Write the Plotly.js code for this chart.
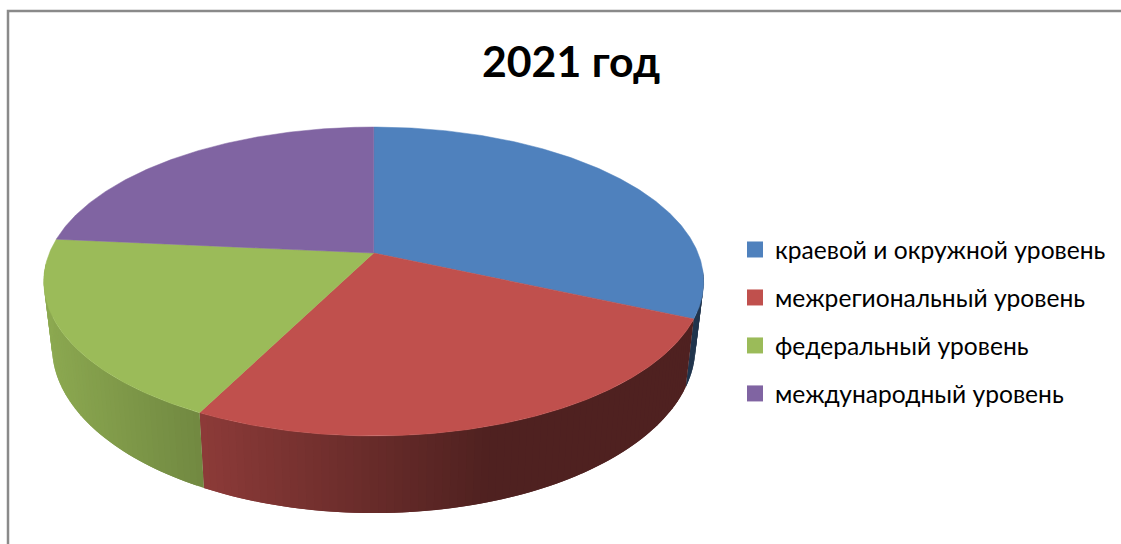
<!DOCTYPE html>
<html>
<head>
<meta charset="utf-8">
<script src="https://cdn.plot.ly/plotly-3.0.1.min.js"></script>
<style>html,body{margin:0;padding:0;background:#fff}#chart{width:1121px;height:544px}</style>
</head>
<body>
<div id="chart"></div>
<script>
// Data (share of the pie, %)
const categories = ["краевой и окружной уровень", "межрегиональный уровень", "федеральный уровень", "международный уровень"];
const shares = [31.7, 25.7, 19.1, 23.5];
const colors = ["#4F81BD", "#C0504D", "#9BBB59", "#8064A2"];
const titleText = "2021 год";

// Perspective model of the tilted disc
const CX = 373.7, K = 0.1845;
const TOP = {a: 324.3, b: 149.2, y0: 253};
const BOT = {a: 316.2, b: 160.7, y0: 316};

function project(deg, g) {
  const t = deg * Math.PI / 180, u = Math.sin(t), v = -Math.cos(t), w = 1 - K * v;
  return [CX + g.a * u / w, g.y0 + g.b * v / w];
}
function shade(hex, x) {
  const f = Math.min(1, Math.max(0.41, 0.73 - 0.0011 * (x - 200)));
  const n = parseInt(hex.slice(1), 16);
  const c = [n >> 16, (n >> 8) & 255, n & 255].map(q => Math.round(q * f));
  return `rgb(${c[0]},${c[1]},${c[2]})`;
}

const total = shares.reduce((a, b) => a + b, 0);
const traces = [];
const STEP = 1.2;
let start = 0;
const slices = shares.map((s, i) => {
  const o = {i, from: start, to: start + s / total * 360};
  start = o.to;
  return o;
});

// Side wall: thin overlapping strips so the shading changes along the rim without seams
slices.forEach(sl => {
  const lo = Math.max(sl.from, 96), hi = Math.min(sl.to, 266);
  if (lo >= hi) return;
  const n = Math.ceil((hi - lo) / STEP);
  for (let k = 0; k < n; k++) {
    const a = lo + (hi - lo) * k / n, mid = lo + (hi - lo) * (k + 1) / n, b = Math.min(hi, mid + STEP);
    const p = [project(a, TOP), project(b, TOP), project(b, BOT), project(a, BOT), project(a, TOP)];
    const col = shade(colors[sl.i], (project(a, TOP)[0] + project(mid, TOP)[0]) / 2);
    traces.push({type: "scatter", mode: "lines", x: p.map(q => q[0]), y: p.map(q => q[1]),
      fill: "toself", fillcolor: col, line: {color: col, width: 0}, hoverinfo: "skip", showlegend: false});
  }
});

// Top face
slices.forEach(sl => {
  const xs = [CX], ys = [TOP.y0];
  const n = Math.ceil((sl.to - sl.from) / 0.5);
  for (let k = 0; k <= n; k++) {
    const q = project(sl.from + (sl.to - sl.from) * k / n, TOP);
    xs.push(q[0]); ys.push(q[1]);
  }
  xs.push(CX); ys.push(TOP.y0);
  traces.push({type: "scatter", mode: "lines", x: xs, y: ys, fill: "toself", fillcolor: colors[sl.i],
    line: {color: colors[sl.i], width: 0.5}, name: categories[sl.i], hoverinfo: "name", showlegend: false});
});

// Legend entries
categories.forEach((c, i) => {
  traces.push({type: "scatter", mode: "markers", x: [null], y: [null], name: c, legendgroup: "g" + i,
    marker: {symbol: "square", size: 16, color: colors[i]}, showlegend: true, hoverinfo: "skip"});
});

const layout = {
  width: 1121, height: 544,
  margin: {l: 0, r: 0, t: 0, b: 0, autoexpand: false},
  paper_bgcolor: "#fff", plot_bgcolor: "#fff",
  xaxis: {range: [0, 1121], visible: false, fixedrange: true},
  yaxis: {range: [544, 0], visible: false, fixedrange: true},
  title: {text: "<b>" + titleText + "</b>", x: 571 / 1121, xanchor: "center", y: 1 - 62 / 544, yanchor: "middle", yref: "container",
    font: {family: "Lato, 'Noto Sans', sans-serif", size: 42.8, color: "#000"}},
  legend: {x: 735 / 1121, xanchor: "left", y: 1 - 227 / 544, yanchor: "top", traceorder: "grouped", tracegroupgap: 13,
    bgcolor: "rgba(0,0,0,0)", font: {family: "Lato, 'Noto Sans', sans-serif", size: 24.6, color: "#000"}},
  shapes: [{type: "rect", xref: "x", yref: "y", x0: 8, y0: 11, x1: 1140, y1: 570, line: {color: "#8a8a8a", width: 2.5}, fillcolor: "rgba(0,0,0,0)", layer: "below"}]
};
Plotly.newPlot("chart", traces, layout, {displayModeBar: false, staticPlot: true});
</script>
</body>
</html>
